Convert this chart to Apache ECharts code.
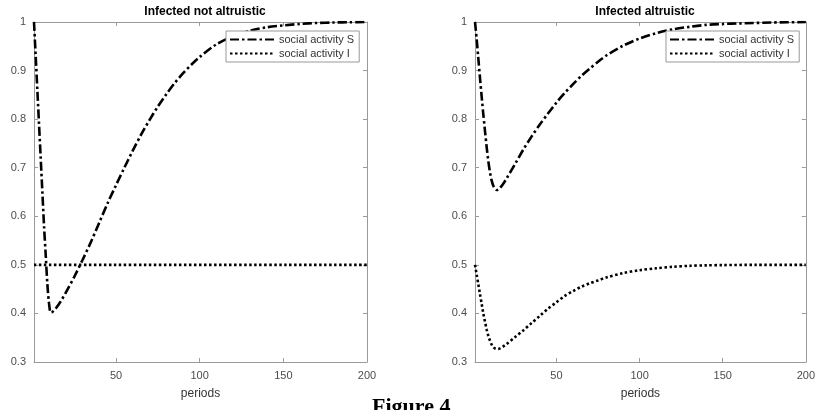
<!DOCTYPE html>
<html>
<head>
<meta charset="utf-8">
<script src="https://cdn.jsdelivr.net/npm/echarts@6/dist/echarts.min.js"></script>
<style>
html,body{margin:0;padding:0;background:#fff;}
#chart{width:818px;height:410px;}
</style>
</head>
<body>
<div id="chart"></div>
<script>
// ---- data ----
var titles = ['Infected not altruistic', 'Infected altruistic'];
var seriesNames = ['social activity S', 'social activity I'];
var xTickValues = [50, 100, 150, 200];
var figureCaption = 'Figure 4';

// left panel: S
var tLeftS = [1, 2, 3, 4, 5, 6, 7, 8, 9, 10, 11, 12, 14, 17, 20, 25, 30, 35, 40, 45, 50, 55, 60, 65, 70, 75, 80, 85, 90, 95, 100, 110, 120, 130, 140, 150, 160, 170, 180, 190, 200];
var vLeftS = [1.0, 0.93, 0.86, 0.79, 0.72, 0.65, 0.58, 0.52, 0.46, 0.42, 0.402, 0.403, 0.41, 0.425, 0.443, 0.475, 0.51, 0.547, 0.587, 0.627, 0.664, 0.70, 0.735, 0.768, 0.798, 0.826, 0.851, 0.874, 0.894, 0.912, 0.928, 0.954, 0.971, 0.982, 0.989, 0.993, 0.996, 0.998, 0.999, 0.9995, 1.0];
// left panel: I
var tLeftI = [1, 200];
var vLeftI = [0.5, 0.5];

// right panel: S
var tRightS = [1, 2, 3, 4, 5, 6, 7, 8, 9, 10, 11, 12, 13, 14, 15, 16, 18, 20, 25, 30, 35, 40, 45, 50, 55, 60, 65, 70, 75, 80, 90, 100, 110, 120, 130, 140, 150, 160, 180, 200];
var vRightS = [1.0, 0.965, 0.925, 0.885, 0.847, 0.81, 0.776, 0.743, 0.714, 0.691, 0.674, 0.663, 0.657, 0.654, 0.655, 0.658, 0.667, 0.678, 0.707, 0.737, 0.764, 0.789, 0.812, 0.834, 0.854, 0.872, 0.889, 0.904, 0.918, 0.931, 0.951, 0.966, 0.977, 0.985, 0.990, 0.994, 0.996, 0.997, 0.999, 1.0];
// right panel: I
var tRightI = [1, 2, 3, 4, 5, 6, 7, 8, 9, 10, 11, 12, 13, 14, 15, 16, 18, 20, 25, 30, 35, 40, 45, 50, 55, 60, 65, 70, 75, 80, 90, 100, 110, 120, 130, 140, 150, 170, 200];
var vRightI = [0.50, 0.48, 0.46, 0.44, 0.42, 0.40, 0.383, 0.367, 0.354, 0.344, 0.336, 0.331, 0.328, 0.327, 0.327, 0.328, 0.332, 0.337, 0.351, 0.365, 0.38, 0.395, 0.41, 0.423, 0.436, 0.446, 0.455, 0.462, 0.468, 0.474, 0.483, 0.489, 0.493, 0.496, 0.498, 0.499, 0.4995, 0.5, 0.5];

function zip(t, v) { return t.map(function (x, i) { return [x, v[i]]; }); }

var FONT = 'Liberation Sans, Arial, Helvetica, sans-serif';
var AXIS_COLOR = '#9a9a9a';
var LABEL_COLOR = '#4d4d4d';

var grids = [
  { left: 34, top: 22, width: 333, height: 340 },
  { left: 475, top: 22, width: 331, height: 340 }
];

function xAxes(gi) {
  return [{
    type: 'value', gridIndex: gi, min: 1, max: 200, position: 'bottom',
    name: 'periods', nameLocation: 'middle', nameGap: 26,
    nameTextStyle: { fontFamily: FONT, fontSize: 12, color: '#333' },
    axisLine: { show: true, lineStyle: { color: AXIS_COLOR, width: 1 } },
    axisTick: { show: true, inside: true, length: 4, customValues: xTickValues, lineStyle: { color: AXIS_COLOR } },
    axisLabel: { show: true, customValues: xTickValues, margin: 8, fontFamily: FONT, fontSize: 11, color: LABEL_COLOR },
    splitLine: { show: false }
  }, {
    type: 'value', gridIndex: gi, min: 1, max: 200, position: 'top',
    axisLine: { show: true, lineStyle: { color: AXIS_COLOR, width: 1 } },
    axisTick: { show: true, inside: true, length: 4, customValues: xTickValues, lineStyle: { color: AXIS_COLOR } },
    axisLabel: { show: false },
    splitLine: { show: false }
  }];
}
function yAxes(gi) {
  return [{
    type: 'value', gridIndex: gi, min: 0.3, max: 1, interval: 0.1, position: 'left',
    axisLine: { show: true, lineStyle: { color: AXIS_COLOR, width: 1 } },
    axisTick: { show: true, inside: true, length: 4, lineStyle: { color: AXIS_COLOR } },
    axisLabel: { show: true, margin: 8, fontFamily: FONT, fontSize: 11, color: LABEL_COLOR,
      formatter: function (v) { return String(Math.round(v * 10) / 10); } },
    splitLine: { show: false }
  }, {
    type: 'value', gridIndex: gi, min: 0.3, max: 1, interval: 0.1, position: 'right',
    axisLine: { show: true, lineStyle: { color: AXIS_COLOR, width: 1 } },
    axisTick: { show: true, inside: true, length: 4, lineStyle: { color: AXIS_COLOR } },
    axisLabel: { show: false },
    splitLine: { show: false }
  }];
}

var styleS = { color: '#000', width: 2.6, type: [9, 3, 2.5, 3], cap: 'butt' };
var styleI = { color: '#000', width: 2.6, type: [2.5, 2.5], cap: 'butt' };

function mkSeries(name, data, gi, style) {
  return {
    name: name, type: 'line', xAxisIndex: gi * 2, yAxisIndex: gi * 2,
    data: data, symbol: 'none', smooth: 0.3, lineStyle: style, itemStyle: { color: '#000' },
    animation: false, z: 2
  };
}

var legendBase = {
  orient: 'vertical', top: 31, itemWidth: 44, itemHeight: 9, itemGap: 3,
  padding: [3, 5, 3, 3], borderColor: '#999', borderWidth: 1, backgroundColor: '#fff',
  itemStyle: { opacity: 0 },
  textStyle: { fontFamily: FONT, fontSize: 11, color: '#333' },
  data: seriesNames, selectedMode: false, z: 10
};

var option = {
  backgroundColor: '#fff',
  animation: false,
  title: [
    { text: titles[0], left: 200, top: 1, textAlign: 'center',
      textStyle: { fontFamily: FONT, fontSize: 12, fontWeight: 'bold', color: '#000' } },
    { text: titles[1], left: 640, top: 1, textAlign: 'center',
      textStyle: { fontFamily: FONT, fontSize: 12, fontWeight: 'bold', color: '#000' } }
  ],
  legend: [
    Object.assign({}, legendBase, { left: 226 }),
    Object.assign({}, legendBase, { left: 666 })
  ],
  grid: grids,
  xAxis: xAxes(0).concat(xAxes(1)),
  yAxis: yAxes(0).concat(yAxes(1)),
  series: [
    mkSeries(seriesNames[0], zip(tLeftS, vLeftS), 0, styleS),
    mkSeries(seriesNames[1], zip(tLeftI, vLeftI), 0, styleI),
    mkSeries(seriesNames[0], zip(tRightS, vRightS), 1, styleS),
    mkSeries(seriesNames[1], zip(tRightI, vRightI), 1, styleI)
  ],
  graphic: [{
    type: 'text', left: 372, top: 396,
    style: { text: figureCaption, fontFamily: 'Liberation Serif, Times New Roman, serif', fontSize: 22, fontWeight: 'bold', fill: '#000' }
  }]
};

var chart = echarts.init(document.getElementById('chart'), null, { renderer: 'canvas' });
chart.setOption(option);
</script>
</body>
</html>
